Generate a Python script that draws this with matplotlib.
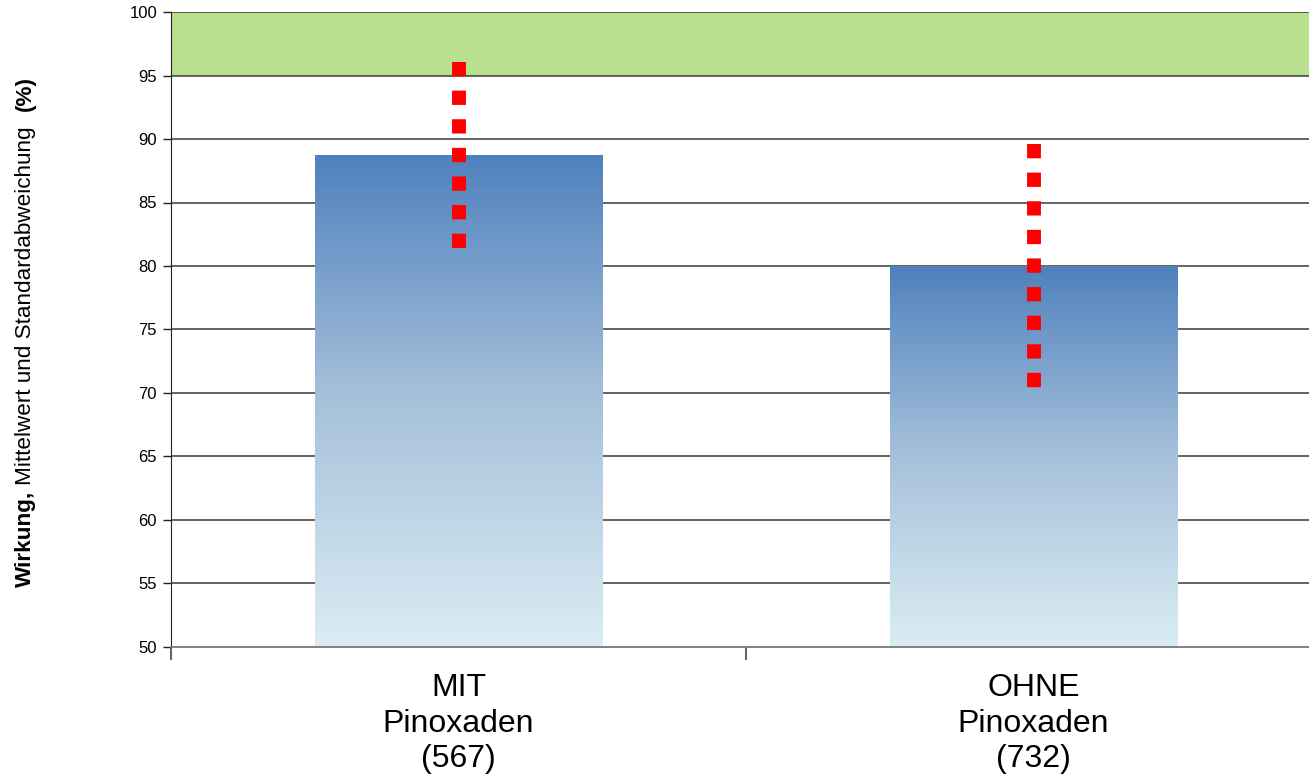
import numpy as np
import matplotlib
matplotlib.use("Agg")
import matplotlib.pyplot as plt
from matplotlib.colors import LinearSegmentedColormap

plt.rcParams['font.family'] = ['Liberation Sans', 'DejaVu Sans']

# Wirkung Mittelwert / Standardabweichung
categories = ['MIT\nPinoxaden\n(567)', 'OHNE\nPinoxaden\n(732)']
means = [88.75, 80.0]
stdevs = [7.3, 9.6]
target_band = (95, 100)
yticks = list(range(50, 101, 5))

fig = plt.figure(figsize=(13.09, 7.77), dpi=100)
ax = fig.add_axes([171 / 1309, 1 - 647 / 777, 1 - 171 / 1309, (647 - 12) / 777])

x = np.arange(len(categories))

# green target zone
ax.axhspan(target_band[0], target_band[1], color='#B9E08E', zorder=0.5, lw=0)

for y in yticks[1:]:
    ax.axhline(y, color='#3a3a3a', lw=1.1, zorder=1)

# bars with vertical gradient
cmap = LinearSegmentedColormap.from_list('blu', ['#DAEDF3', '#A7C1DB', '#4F81BD'])
grad = np.linspace(0, 1, 256).reshape(-1, 1)
bars = ax.bar(x, np.array(means) - 50, bottom=50, width=0.5, color='none', lw=0, zorder=2)
for b in bars:
    x0, y0 = b.get_x(), b.get_y()
    w, h = b.get_width(), b.get_height()
    im = ax.imshow(grad, cmap=cmap, origin='lower', aspect='auto',
                   extent=[x0, x0 + w, y0, y0 + h], zorder=2, interpolation='bilinear')
    im.set_clip_path(b)

ax.set_xlim(-0.5, 1.479)
ax.set_ylim(50, 100)

# standard deviation as red square-dotted lines
for xi, m, s in zip(x, means, stdevs):
    ax.plot([xi, xi], [m + s, m - s], color='#FF0000', lw=10, solid_capstyle='butt',
            dash_capstyle='butt', linestyle=(0, (1.03, 1.03)), zorder=3)

for sp in ['top', 'right']:
    ax.spines[sp].set_visible(False)
ax.spines['left'].set_color('#222222')
ax.spines['bottom'].set_color('#777777')
ax.spines['bottom'].set_linewidth(1.3)

ax.set_yticks(yticks)
ax.tick_params(axis='y', length=6, width=1, color='#222222', labelsize=12, pad=4)

ax.set_xticks(x)
ax.set_xticklabels(categories, fontsize=23, linespacing=1.24)
ax.set_xticks([-0.5, 0.5], minor=True)
ax.tick_params(axis='x', which='major', length=0, pad=19)
ax.tick_params(axis='x', which='minor', length=9, width=1.5, color='#666666')

# y axis label with mixed weights
fig.canvas.draw()
r = fig.canvas.get_renderer()
pieces = [('Wirkung,', 'bold', 6), ('Mittelwert und Standardabweichung', 'normal', 15),
          ('(%)', 'bold', 0)]
ypos = 190
for txt, wt, gap in pieces:
    t = fig.text(25 / 1309, ypos / 777, txt, rotation=90, rotation_mode='anchor',
                 ha='left', va='center', fontsize=16.2, fontweight=wt)
    ext = t.get_window_extent(r)
    ypos += ext.height + gap

fig.savefig('out.png', dpi=100)
